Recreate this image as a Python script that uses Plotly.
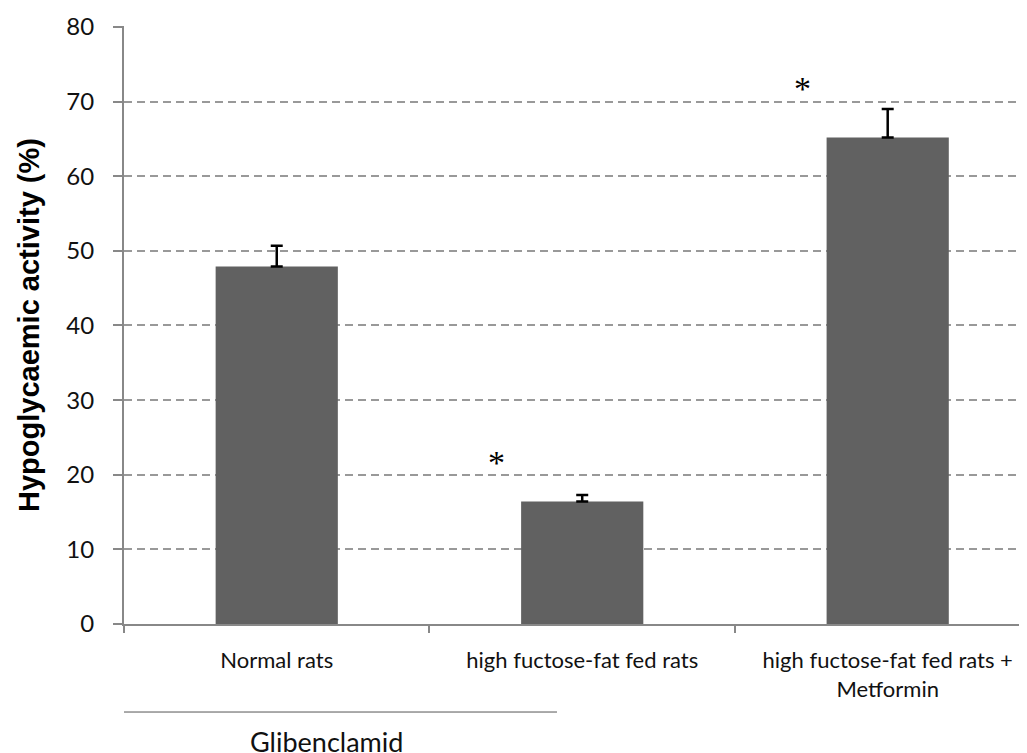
import plotly.graph_objects as go

categories = ["Normal rats", "high fuctose-fat fed rats", "high fuctose-fat fed rats +<br>Metformin"]
values = [47.9, 16.4, 65.2]
errors = [2.8, 0.9, 3.8]
star_labels = ["", "*", "*"]
star_y = [None, 21.6, 71.8]
y_ticks = [0, 10, 20, 30, 40, 50, 60, 70, 80]
group_label = "Glibenclamid"

FONT = "Lato, Liberation Sans, sans-serif"

fig = go.Figure()
fig.add_trace(go.Bar(
    x=categories, y=values, width=0.4,
    marker=dict(color="#616161", line=dict(width=0)),
    error_y=dict(type="data", array=errors, arrayminus=[0]*len(errors), symmetric=False,
                 color="black", thickness=2.5, width=6),
))

for i, s in enumerate(star_labels):
    if s:
        fig.add_annotation(x=i - 0.28, y=star_y[i], xref="x", yref="y",
                           text=s, showarrow=False, yanchor="middle",
                           font=dict(family="Liberation Serif, Times New Roman, serif", size=34, color="black"))

fig.add_shape(type="line", xref="paper", yref="paper", x0=0, x1=0.4795, y0=-0.1472, y1=-0.1472,
              line=dict(color="#555", width=1))
fig.add_annotation(x=0.224, y=-0.166, xref="paper", yref="paper", text=group_label, showarrow=False,
                   yanchor="top", xanchor="center", font=dict(family=FONT, size=27, color="#111"))

fig.update_layout(
    width=1027, height=753,
    margin=dict(l=116, r=8, t=18, b=137, autoexpand=False),
    plot_bgcolor="white", paper_bgcolor="white",
    showlegend=False,
    font=dict(family=FONT, size=22, color="#111"),
)
fig.update_xaxes(
    range=[-0.5, 2.456], showline=True, linecolor="#888", linewidth=2,
    ticks="outside", tickson="boundaries", ticklen=7, tickcolor="#888", tickwidth=2,
    showgrid=False, automargin=False, ticklabelstandoff=16,
    tickfont=dict(family=FONT, size=22, color="#111"),
)
fig.update_yaxes(
    range=[0, 80.13], tickvals=y_ticks, showline=True, linecolor="#888", linewidth=2,
    ticks="outside", ticklen=9, tickcolor="#888", tickwidth=2,
    showgrid=True, gridcolor="#999", griddash="8px,5px", gridwidth=1.8,
    zeroline=False, automargin=False, ticklabelstandoff=14,
    tickfont=dict(family=FONT, size=24, color="#111"),
    title=dict(text="<b>Hypoglycaemic activity (%)</b>",
               font=dict(family="Liberation Sans, Arial, sans-serif", size=29, color="black"), standoff=18),
)

fig.write_html("out.html")
